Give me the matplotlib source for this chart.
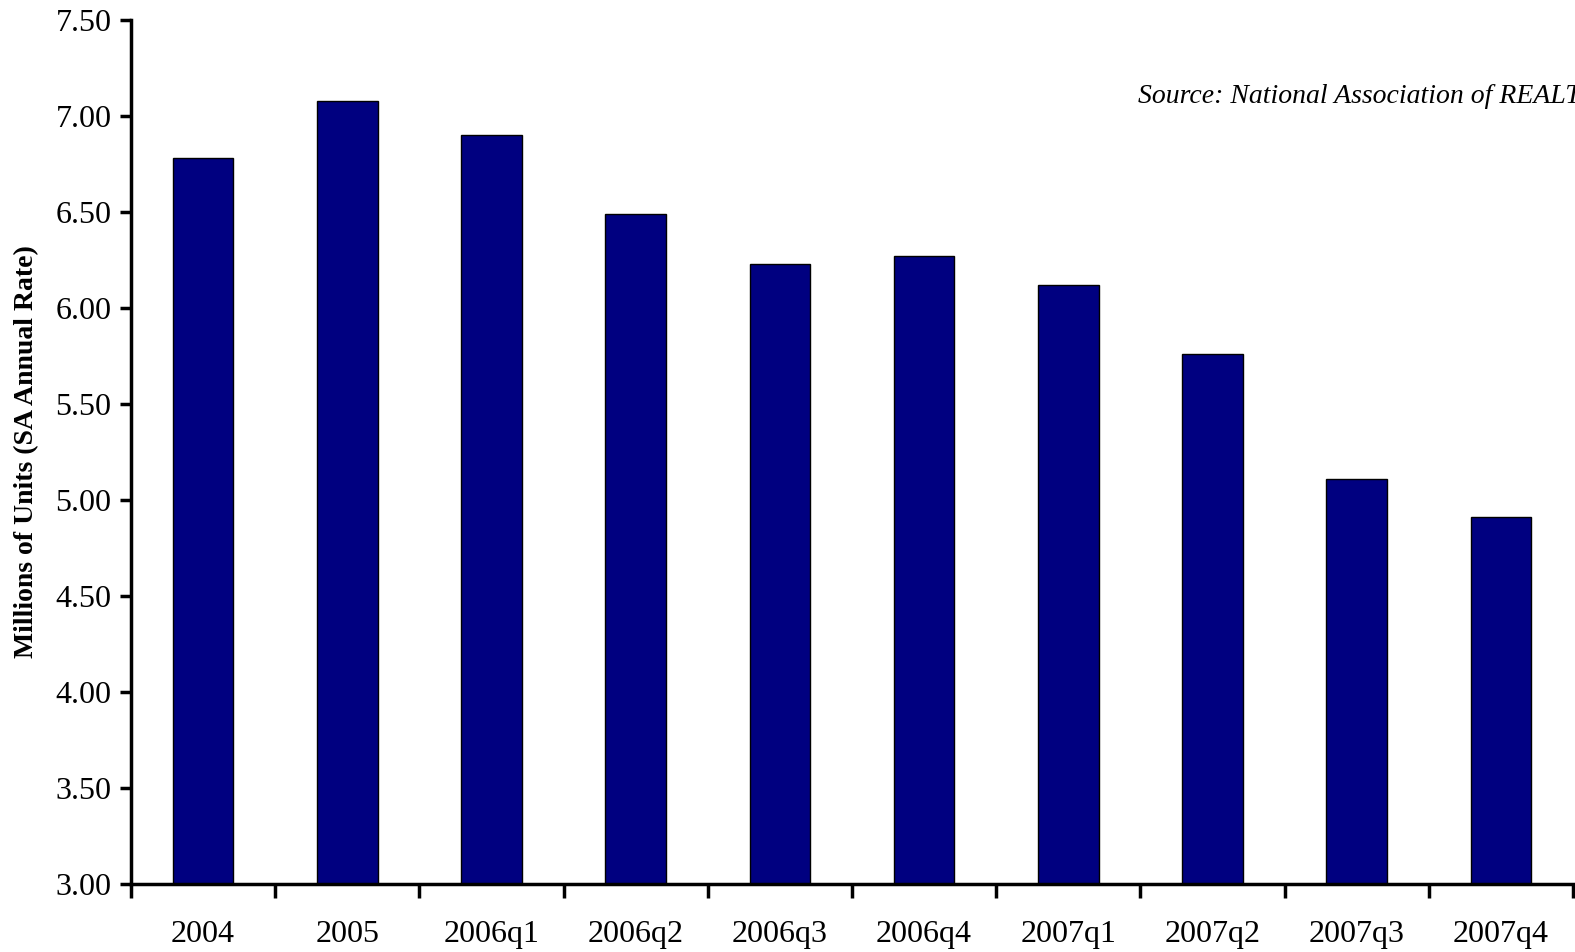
import numpy as np
import matplotlib
matplotlib.use('Agg')
from matplotlib import pyplot as plt

categories = ['2004', '2005', '2006q1', '2006q2', '2006q3', '2006q4',
              '2007q1', '2007q2', '2007q3', '2007q4']
sales = [6.78, 7.08, 6.90, 6.49, 6.23, 6.27, 6.12, 5.76, 5.11, 4.91]
y_ticks = [3.0, 3.5, 4.0, 4.5, 5.0, 5.5, 6.0, 6.5, 7.0, 7.5]

plt.rcParams['font.family'] = ['Liberation Serif', 'DejaVu Serif']

fig = plt.figure(figsize=(15.75, 9.52), dpi=100)
ax = fig.add_axes([131 / 1575, 1 - 884 / 952, (1573 - 131) / 1575, (884 - 20) / 952])

x = np.arange(len(categories))
ax.bar(x, sales, width=0.42, color='#000080', edgecolor='black', linewidth=1.0,
       bottom=0, zorder=2)

ax.set_ylim(3.0, 7.5)
ax.set_xlim(-0.5, len(categories) - 0.5)
ax.set_yticks(y_ticks)
ax.set_yticklabels([f"{v:.2f}" for v in y_ticks], fontsize=23)

# Category labels centred, tick marks on the boundaries
ax.set_xticks(np.arange(-0.5, len(categories) + 0.5, 1.0))
ax.set_xticklabels([])
ax.set_xticks(x, minor=True)
ax.set_xticklabels(categories, minor=True, fontsize=23)
ax.tick_params(axis='x', which='minor', length=0, pad=26)
ax.tick_params(axis='x', which='major', length=10, width=2.5, direction='out')
ax.tick_params(axis='y', length=8, width=2.5, direction='out', pad=6)

for side in ['top', 'right']:
    ax.spines[side].set_visible(False)
for side in ['left', 'bottom']:
    ax.spines[side].set_linewidth(2.5)

ax.set_ylabel('Millions of Units (SA Annual Rate)', fontsize=20, fontweight='bold',
              labelpad=12)

# source note runs off the right edge, as in the original
ax.text(0.698, 0.912, 'Source: National Association of REALTORS',
        transform=ax.transAxes, fontsize=20, style='italic', ha='left', va='center',
        clip_on=False)

plt.savefig('out.png', dpi=100)
plt.close()
